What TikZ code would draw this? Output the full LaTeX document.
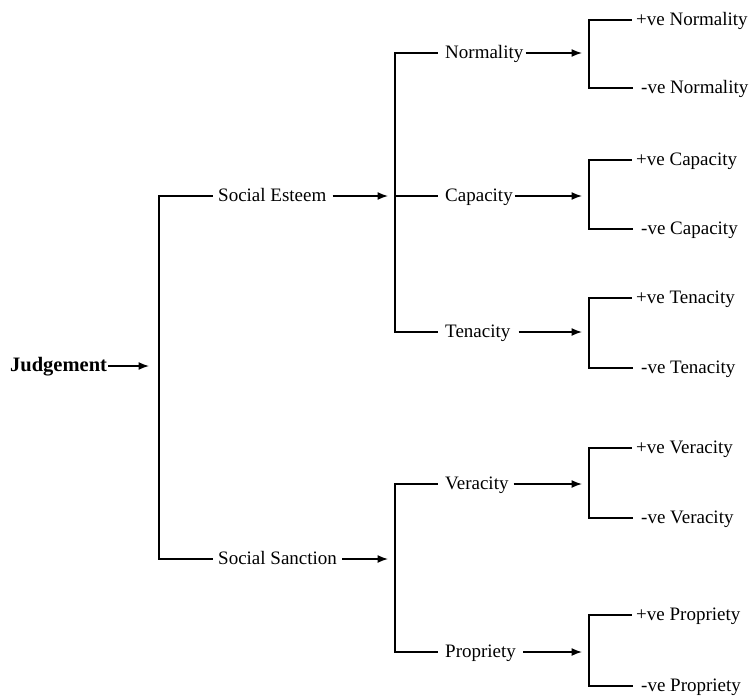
\documentclass[tikz,border=0pt]{standalone}
\usepackage{fontspec}
\setmainfont{Liberation Serif}
\usetikzlibrary{arrows.meta}
\begin{document}
\begin{tikzpicture}[x=1pt,y=-1pt,
  lbl/.style={anchor=west, inner sep=0pt, text height=11pt, text depth=0pt,
              font=\fontsize{19}{22}\selectfont},
  ln/.style={line width=1.4pt},
  arr/.style={line width=1.4pt,-{Latex[length=10.5pt,width=8pt]}}]
\useasboundingbox (0,0) rectangle (751,696);

% root
\node[lbl,font=\fontsize{20.5}{23}\bfseries] (judg) at (10,366) {Judgement};
\coordinate (jv) at (159,366);
\coordinate (jt) at (159,196);
\coordinate (jb) at (159,559);
\draw[arr] ([xshift=1pt]judg.east) -- ([xshift=-10pt]jv);
\draw[ln] (jt) -- (jb);

% level 1
\node[lbl] (esteem) at (218,196) {Social Esteem};
\node[lbl] (sanction) at (218,559) {Social Sanction};
\draw[ln] ([xshift=-0.7pt]jt) -- ([xshift=-5pt]esteem.west);
\draw[ln] ([xshift=-0.7pt]jb) -- ([xshift=-5pt]sanction.west);
\coordinate (ev) at (395,196);
\coordinate (sv) at (395,559);
\draw[arr] ([xshift=6pt]esteem.east) -- ([xshift=-7pt]ev);
\draw[arr] ([xshift=5pt]sanction.east) -- ([xshift=-7pt]sv);

% esteem bracket
\coordinate (et) at (395,53);
\coordinate (eb) at (395,332);
\draw[ln] (et) -- (eb);
\node[lbl] (norm) at (445,53) {Normality};
\node[lbl] (capa) at (445,196) {Capacity};
\node[lbl] (tena) at (445,332) {Tenacity};
\draw[ln] ([xshift=-0.7pt]et) -- ([xshift=-7pt]norm.west);
\draw[ln] (ev) -- ([xshift=-7pt]capa.west);
\draw[ln] ([xshift=-0.7pt]eb) -- ([xshift=-7pt]tena.west);

% sanction bracket
\coordinate (st) at (395,484);
\coordinate (sb) at (395,652);
\draw[ln] (st) -- (sb);
\node[lbl] (vera) at (445,484) {Veracity};
\node[lbl] (prop) at (445,652) {Propriety};
\draw[ln] ([xshift=-0.7pt]st) -- ([xshift=-7pt]vera.west);
\draw[ln] ([xshift=-0.7pt]sb) -- ([xshift=-7pt]prop.west);

% right brackets
\foreach \n/\c/\t/\b in {norm/53/20/88, capa/196/160/229, tena/332/298/368, vera/484/448/518, prop/652/615/686}{
  \coordinate (\n v) at (589,\c);
  \coordinate (\n t) at (589,\t);
  \coordinate (\n b) at (589,\b);
  \draw[ln] (\n t) -- (\n b);
}
\draw[arr] ([xshift=2pt]norm.east) -- ([xshift=-7pt]normv);
\draw[arr] ([xshift=2pt]capa.east) -- ([xshift=-7pt]capav);
\draw[arr] ([xshift=8pt]tena.east) -- ([xshift=-7pt]tenav);
\draw[arr] ([xshift=5pt]vera.east) -- ([xshift=-7pt]verav);
\draw[arr] ([xshift=7pt]prop.east) -- ([xshift=-7pt]propv);

% leaves
\node[lbl] (pnorm) at (636,20) {+ve Normality};
\node[lbl] (mnorm) at (641,88) {-ve Normality};
\node[lbl] (pcapa) at (636,160) {+ve Capacity};
\node[lbl] (mcapa) at (641,229) {-ve Capacity};
\node[lbl] (ptena) at (636,298) {+ve Tenacity};
\node[lbl] (mtena) at (641,368) {-ve Tenacity};
\node[lbl] (pvera) at (636,448) {+ve Veracity};
\node[lbl] (mvera) at (641,518) {-ve Veracity};
\node[lbl] (pprop) at (636,615) {+ve Propriety};
\node[lbl] (mprop) at (641,686) {-ve Propriety};

\draw[ln] ([xshift=-0.7pt]normt) -- ([xshift=-4pt]pnorm.west);
\draw[ln] ([xshift=-0.7pt]normb) -- ([xshift=-8pt]mnorm.west);
\draw[ln] ([xshift=-0.7pt]capat) -- ([xshift=-4pt]pcapa.west);
\draw[ln] ([xshift=-0.7pt]capab) -- ([xshift=-8pt]mcapa.west);
\draw[ln] ([xshift=-0.7pt]tenat) -- ([xshift=-4pt]ptena.west);
\draw[ln] ([xshift=-0.7pt]tenab) -- ([xshift=-8pt]mtena.west);
\draw[ln] ([xshift=-0.7pt]verat) -- ([xshift=-4pt]pvera.west);
\draw[ln] ([xshift=-0.7pt]verab) -- ([xshift=-8pt]mvera.west);
\draw[ln] ([xshift=-0.7pt]propt) -- ([xshift=-4pt]pprop.west);
\draw[ln] ([xshift=-0.7pt]propb) -- ([xshift=-8pt]mprop.west);
\end{tikzpicture}
\end{document}
